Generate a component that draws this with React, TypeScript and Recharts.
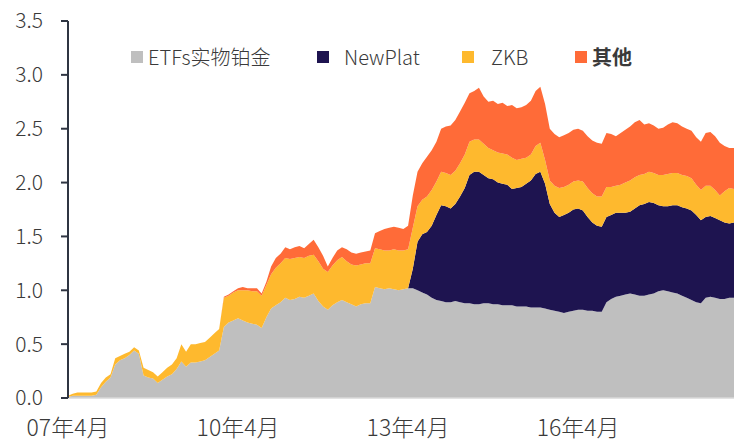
import React from 'react';
import { AreaChart, Area, XAxis, YAxis } from 'recharts';

// Platinum ETF holdings (million oz), monthly from Apr 2007
const seriesKeys = ['etf', 'newPlat', 'zkb', 'other'];
const seriesNames = ['ETFs实物铂金', 'NewPlat', 'ZKB', '其他'];
const seriesColors = ['#BFBFBF', '#1E1450', '#FEB92E', '#FF6B38'];

const tickMonths = [0, 36, 72, 108];
const tickLabels = ['07年4月', '10年4月', '13年4月', '16年4月'];
const yTicks = [0, 0.5, 1, 1.5, 2, 2.5, 3, 3.5];

const etfHoldings = [
  0.01, 0.02, 0.02, 0.02, 0.02, 0.02, 0.03, 0.1, 0.15, 0.19,
  0.31, 0.35, 0.37, 0.4, 0.44, 0.41, 0.21, 0.19, 0.18, 0.14,
  0.17, 0.2, 0.22, 0.27, 0.34, 0.29, 0.33, 0.33, 0.34, 0.35,
  0.38, 0.41, 0.44, 0.66, 0.7, 0.72, 0.74, 0.72, 0.7, 0.69,
  0.68, 0.65, 0.75, 0.83, 0.86, 0.89, 0.93, 0.91, 0.92, 0.94,
  0.93, 0.95, 0.97, 0.9, 0.85, 0.82, 0.86, 0.89, 0.91, 0.89,
  0.87, 0.85, 0.87, 0.88, 0.88, 1.03, 1.02, 1.01, 1.02, 1.01,
  1.0, 1.01, 1.02, 1.02, 1.0, 0.98, 0.96, 0.93, 0.91, 0.9,
  0.89, 0.89, 0.9, 0.89, 0.88, 0.88, 0.87, 0.87, 0.88, 0.88,
  0.87, 0.87, 0.86, 0.86, 0.86, 0.85, 0.85, 0.85, 0.84, 0.84,
  0.84, 0.83, 0.82, 0.81, 0.8, 0.79, 0.8, 0.81, 0.82, 0.82,
  0.81, 0.81, 0.8, 0.8, 0.89, 0.92, 0.94, 0.95, 0.96, 0.97,
  0.96, 0.95, 0.95, 0.96, 0.97, 0.99, 1.0, 0.99, 0.98, 0.97,
  0.95, 0.93, 0.91, 0.89, 0.88, 0.93, 0.94, 0.93, 0.92, 0.92,
  0.93, 0.93,
];

const newPlatHoldings = [
  0, 0, 0, 0, 0, 0, 0, 0, 0, 0,
  0, 0, 0, 0, 0, 0, 0, 0, 0, 0,
  0, 0, 0, 0, 0, 0, 0, 0, 0, 0,
  0, 0, 0, 0, 0, 0, 0, 0, 0, 0,
  0, 0, 0, 0, 0, 0, 0, 0, 0, 0,
  0, 0, 0, 0, 0, 0, 0, 0, 0, 0,
  0, 0, 0, 0, 0, 0, 0, 0, 0, 0,
  0, 0, 0, 0.18, 0.45, 0.54, 0.58, 0.67, 0.79, 0.89,
  0.89, 0.87, 0.9, 0.98, 1.07, 1.19, 1.23, 1.23, 1.19, 1.16,
  1.16, 1.13, 1.13, 1.12, 1.08, 1.1, 1.11, 1.14, 1.18, 1.24,
  1.26, 1.16, 0.98, 0.91, 0.88, 0.91, 0.92, 0.94, 0.94, 0.92,
  0.87, 0.82, 0.8, 0.79, 0.79, 0.78, 0.78, 0.77, 0.76, 0.76,
  0.8, 0.84, 0.85, 0.86, 0.84, 0.8, 0.78, 0.79, 0.81, 0.82,
  0.82, 0.83, 0.83, 0.81, 0.77, 0.75, 0.75, 0.74, 0.73, 0.71,
  0.69, 0.7,
];

const zkbHoldings = [
  0.01, 0.02, 0.03, 0.03, 0.03, 0.03, 0.03, 0.04, 0.04, 0.03,
  0.06, 0.04, 0.04, 0.03, 0.03, 0.03, 0.07, 0.07, 0.06, 0.06,
  0.07, 0.08, 0.09, 0.1, 0.16, 0.14, 0.17, 0.17, 0.17, 0.17,
  0.18, 0.19, 0.2, 0.27, 0.25, 0.26, 0.26, 0.28, 0.3, 0.3,
  0.31, 0.3, 0.3, 0.32, 0.35, 0.36, 0.37, 0.38, 0.38, 0.37,
  0.37, 0.37, 0.36, 0.37, 0.35, 0.35, 0.37, 0.39, 0.4, 0.38,
  0.37, 0.38, 0.37, 0.37, 0.37, 0.36, 0.36, 0.36, 0.35, 0.37,
  0.37, 0.36, 0.36, 0.38, 0.33, 0.32, 0.33, 0.33, 0.31, 0.31,
  0.31, 0.31, 0.31, 0.31, 0.31, 0.31, 0.3, 0.3, 0.29, 0.28,
  0.27, 0.28, 0.28, 0.28, 0.29, 0.26, 0.26, 0.24, 0.24, 0.26,
  0.27, 0.22, 0.22, 0.25, 0.27, 0.26, 0.26, 0.26, 0.26, 0.27,
  0.27, 0.27, 0.27, 0.28, 0.28, 0.26, 0.25, 0.26, 0.28, 0.29,
  0.29, 0.28, 0.28, 0.28, 0.28, 0.28, 0.29, 0.3, 0.3, 0.3,
  0.3, 0.3, 0.3, 0.28, 0.28, 0.29, 0.28, 0.26, 0.23, 0.29,
  0.33, 0.31,
];

const otherHoldings = [
  0, 0, 0, 0, 0, 0, 0, 0, 0, 0,
  0, 0, 0, 0, 0, 0, 0, 0, 0, 0,
  0, 0, 0, 0, 0, 0, 0, 0, 0, 0,
  0, 0, 0, 0.01, 0.01, 0.01, 0.02, 0.03, 0.02, 0.03,
  0.03, 0.02, 0.03, 0.07, 0.09, 0.09, 0.1, 0.09, 0.1, 0.1,
  0.09, 0.11, 0.14, 0.13, 0.12, 0.05, 0.07, 0.09, 0.09, 0.11,
  0.11, 0.11, 0.11, 0.11, 0.12, 0.14, 0.17, 0.2, 0.21, 0.21,
  0.21, 0.2, 0.22, 0.3, 0.32, 0.34, 0.37, 0.37, 0.37, 0.4,
  0.43, 0.46, 0.47, 0.48, 0.48, 0.45, 0.45, 0.48, 0.44, 0.43,
  0.46, 0.45, 0.47, 0.45, 0.49, 0.48, 0.48, 0.49, 0.5, 0.51,
  0.52, 0.52, 0.48, 0.48, 0.47, 0.48, 0.48, 0.48, 0.48, 0.47,
  0.48, 0.49, 0.5, 0.49, 0.5, 0.49, 0.46, 0.48, 0.49, 0.5,
  0.51, 0.51, 0.46, 0.45, 0.44, 0.43, 0.44, 0.46, 0.47, 0.46,
  0.45, 0.44, 0.44, 0.44, 0.45, 0.49, 0.5, 0.5, 0.49, 0.42,
  0.37, 0.38,
];

const FONT = "'Noto Sans CJK SC', 'Noto Sans', sans-serif";
const TEXT = '#3A3A3A';

const chartData = etfHoldings.map((v, i) => ({
  month: i,
  etf: v,
  newPlat: newPlatHoldings[i],
  zkb: zkbHoldings[i],
  other: otherHoldings[i],
}));

// legend item positions (px), copied from the reference layout
const legendPos = [
  { left: 131, gap: 5 },
  { left: 317, gap: 15 },
  { left: 462, gap: 17 },
  { left: 575, gap: 5 },
];

function ChartLegend() {
  return (
    <div style={{ position: 'absolute', left: 0, top: 44, width: 734, height: 26 }}>
      {seriesNames.map((name, i) => (
        <div
          key={name}
          style={{
            position: 'absolute',
            left: legendPos[i].left,
            top: 0,
            display: 'flex',
            alignItems: 'center',
            fontFamily: FONT,
            fontSize: 20,
            color: TEXT,
            fontWeight: i === 3 ? 700 : 300,
            whiteSpace: 'nowrap',
            lineHeight: '26px',
          }}
        >
          <span
            style={{
              display: 'inline-block',
              width: 12,
              height: 12,
              background: seriesColors[i],
              marginRight: legendPos[i].gap,
            }}
          />
          {name}
        </div>
      ))}
    </div>
  );
}

export default function App() {
  return (
    <div style={{ position: 'absolute', left: 0, top: 0, width: 734, height: 442, background: '#fff' }}>
      <AreaChart
        width={734}
        height={442}
        data={chartData}
        margin={{ top: 21, right: 0, bottom: 0, left: 0 }}
      >
        <XAxis
          dataKey="month"
          type="number"
          domain={[0, 141]}
          ticks={tickMonths}
          interval={0}
          tickFormatter={(v) => tickLabels[tickMonths.indexOf(v)] ?? ''}
          tick={{ fill: TEXT, fontSize: 23, fontFamily: FONT, fontWeight: 300 }}
          axisLine={{ stroke: '#D9D9D9', strokeWidth: 1.5 }}
          tickLine={false}
          tickSize={0}
          tickMargin={22}
          height={44}
        />
        <YAxis
          type="number"
          domain={[0, 3.5]}
          ticks={yTicks}
          interval={0}
          tickFormatter={(v) => Number(v).toFixed(1)}
          tick={{ fill: TEXT, fontSize: 21, fontFamily: FONT, fontWeight: 300 }}
          axisLine={{ stroke: '#2F3542', strokeWidth: 2 }}
          tickLine={{ stroke: '#2F3542', strokeWidth: 2 }}
          tickSize={7}
          tickMargin={18}
          width={68}
        />
        {seriesKeys.map((key, i) => (
          <Area
            key={key}
            type="linear"
            dataKey={key}
            name={seriesNames[i]}
            stackId="holdings"
            fill={seriesColors[i]}
            fillOpacity={1}
            stroke="none"
            isAnimationActive={false}
            dot={false}
            activeDot={false}
          />
        ))}
      </AreaChart>
      <ChartLegend />
    </div>
  );
}
